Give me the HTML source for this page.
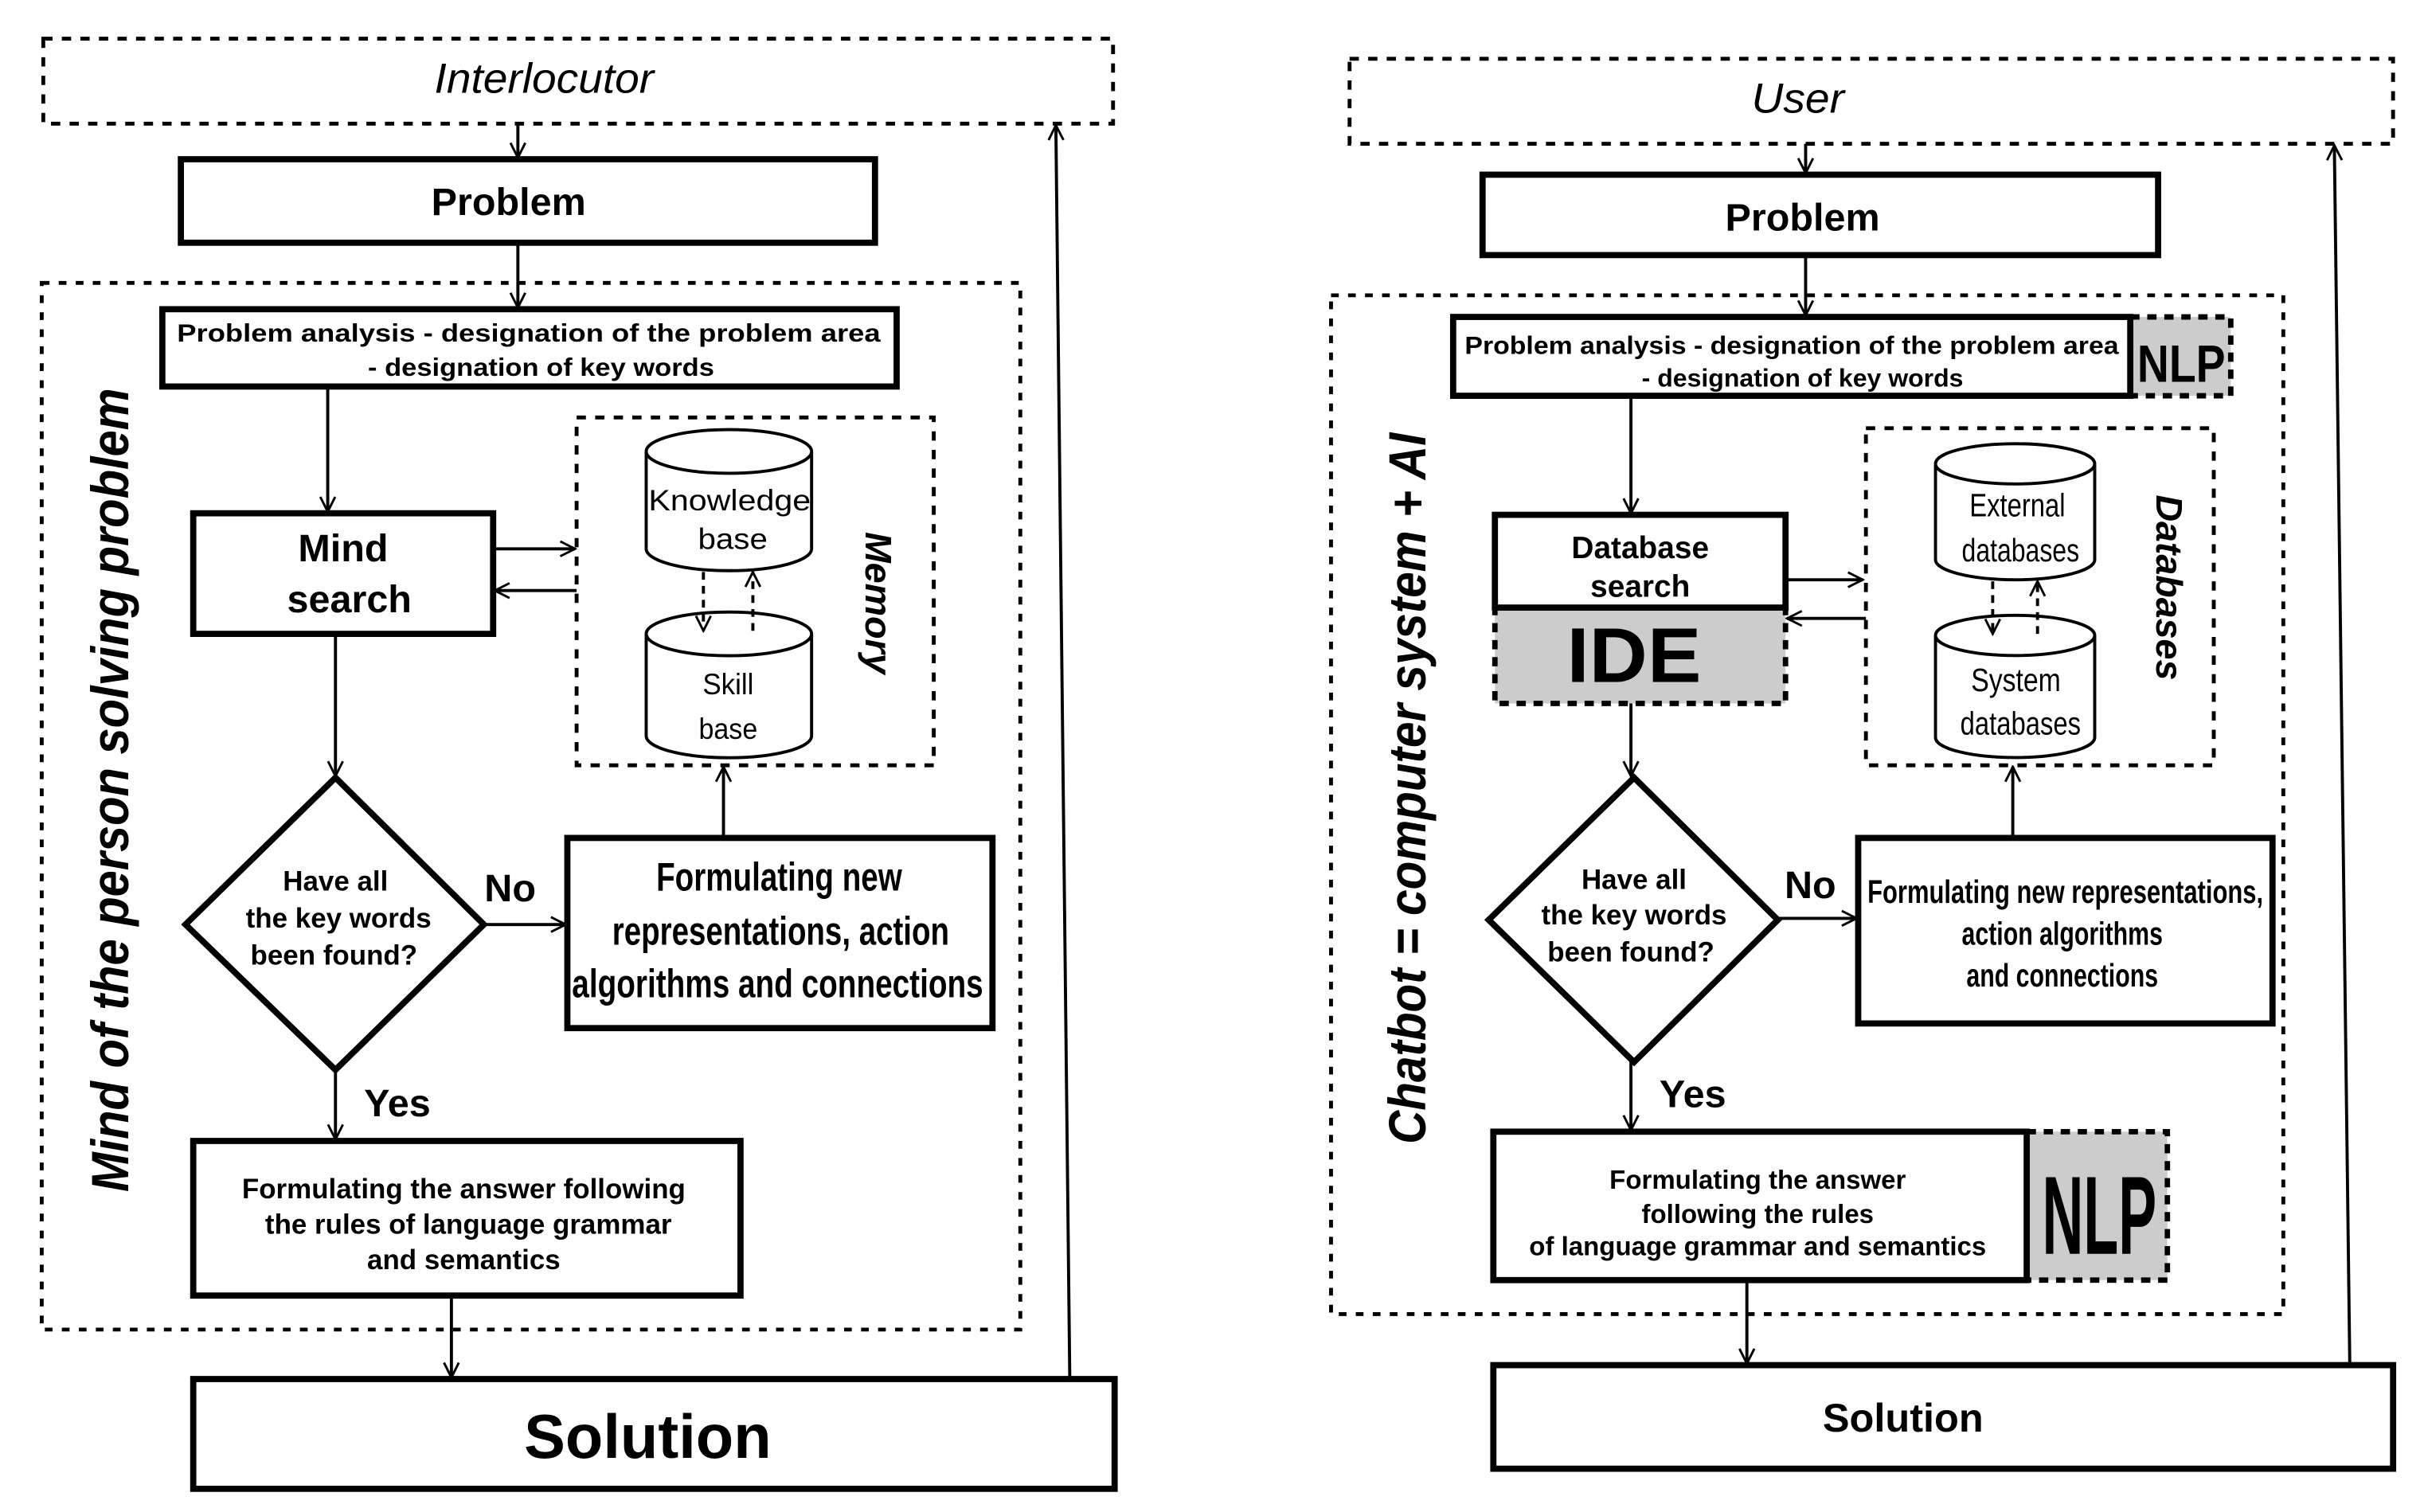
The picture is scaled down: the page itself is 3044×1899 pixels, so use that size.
<!DOCTYPE html>
<html><head><meta charset="utf-8"><style>
html,body{margin:0;padding:0;background:#fff;}
svg{display:block;}
text{font-family:"Liberation Sans",sans-serif;fill:#000;}
</style></head><body>
<svg width="3044" height="1899" viewBox="0 0 1568 978" preserveAspectRatio="none" xmlns="http://www.w3.org/2000/svg">
<defs>
<marker id="a" viewBox="0 0 20 20" refX="18" refY="10" markerWidth="12" markerHeight="12" markerUnits="userSpaceOnUse" orient="auto">
<path d="M2,2 L18,10 L2,18" fill="none" stroke="#000" stroke-width="2.5"/>
</marker>
</defs>
<g fill="none" stroke="#000">
<!-- LEFT -->
<rect x="28" y="25" width="692" height="55" stroke-width="2.5" stroke-dasharray="6,6"/>
<rect x="27" y="183" width="633" height="677" stroke-width="2.5" stroke-dasharray="5,6"/>
<rect x="373" y="270" width="231" height="225" stroke-width="2.5" stroke-dasharray="6,6"/>
<rect x="117" y="103" width="449" height="54" stroke-width="4"/>
<rect x="105" y="200" width="475" height="50" stroke-width="4"/>
<rect x="125" y="332" width="194" height="78" stroke-width="4"/>
<polygon points="217,503 313,598 217,692 120,598" stroke-width="4"/>
<rect x="367" y="542" width="275" height="123" stroke-width="4"/>
<rect x="125" y="738" width="354" height="100" stroke-width="4"/>
<rect x="125" y="892" width="596" height="71" stroke-width="4"/>
<path d="M418,292 A53,14 0 0 1 525,292 L525,355 A53,14 0 0 1 418,355 Z M418,292 A53,14 0 0 0 525,292" stroke-width="2"/>
<path d="M418,410 A53,14 0 0 1 525,410 L525,476 A53,14 0 0 1 418,476 Z M418,410 A53,14 0 0 0 525,410" stroke-width="2"/>
<g stroke-width="2" marker-end="url(#a)">
<line x1="335" y1="80" x2="335" y2="102"/>
<line x1="335" y1="157" x2="335" y2="199"/>
<line x1="212" y1="250" x2="212" y2="331"/>
<line x1="319" y1="355" x2="372" y2="355"/>
<line x1="373" y1="382" x2="320" y2="382"/>
<line x1="217" y1="410" x2="217" y2="502"/>
<line x1="313" y1="598" x2="366" y2="598"/>
<line x1="468" y1="542" x2="468" y2="496"/>
<line x1="217" y1="692" x2="217" y2="737"/>
<line x1="292" y1="838" x2="292" y2="891"/>
<line x1="692" y1="892" x2="683" y2="81"/>
<line x1="455" y1="370" x2="455" y2="408" stroke-dasharray="5,4"/>
<line x1="487" y1="408" x2="487" y2="370" stroke-dasharray="5,4"/>
</g>
<!-- RIGHT -->
<rect x="873" y="38" width="675" height="55" stroke-width="2.5" stroke-dasharray="6,6"/>
<rect x="861" y="191" width="616" height="659" stroke-width="2.5" stroke-dasharray="5,6"/>
<rect x="1207" y="277" width="225" height="218" stroke-width="2.5" stroke-dasharray="6,6"/>
<rect x="959" y="113" width="437" height="52" stroke-width="4"/>
<rect x="1378" y="205" width="65" height="51" fill="#ccc" stroke-width="3.5" stroke-dasharray="6,5"/>
<rect x="940" y="205" width="438" height="51" stroke-width="4"/>
<rect x="967" y="393" width="188" height="62" fill="#ccc" stroke-width="3.5" stroke-dasharray="6,5"/>
<rect x="967" y="333" width="188" height="60" stroke-width="4"/>
<polygon points="1057,503 1150,595 1057,687 963,595" stroke-width="4"/>
<rect x="1202" y="542" width="268" height="120" stroke-width="4"/>
<rect x="1311" y="732" width="91" height="96" fill="#ccc" stroke-width="3.5" stroke-dasharray="6,5"/>
<rect x="966" y="732" width="345" height="96" stroke-width="4"/>
<rect x="966" y="883" width="582" height="67" stroke-width="4"/>
<path d="M1252,300 A51.5,13 0 0 1 1355,300 L1355,362 A51.5,13 0 0 1 1252,362 Z M1252,300 A51.5,13 0 0 0 1355,300" stroke-width="2"/>
<path d="M1252,411 A51.5,13 0 0 1 1355,411 L1355,477 A51.5,13 0 0 1 1252,477 Z M1252,411 A51.5,13 0 0 0 1355,411" stroke-width="2"/>
<g stroke-width="2" marker-end="url(#a)">
<line x1="1168" y1="93" x2="1168" y2="112"/>
<line x1="1168" y1="165" x2="1168" y2="204"/>
<line x1="1055" y1="256" x2="1055" y2="332"/>
<line x1="1155" y1="375" x2="1205" y2="375"/>
<line x1="1207" y1="400" x2="1156" y2="400"/>
<line x1="1055" y1="455" x2="1055" y2="502"/>
<line x1="1150" y1="594" x2="1201" y2="594"/>
<line x1="1302" y1="542" x2="1302" y2="496"/>
<line x1="1055" y1="687" x2="1055" y2="731"/>
<line x1="1130" y1="828" x2="1130" y2="882"/>
<line x1="1520" y1="883" x2="1510" y2="94"/>
<line x1="1289" y1="376" x2="1289" y2="410" stroke-dasharray="5,4"/>
<line x1="1318" y1="410" x2="1318" y2="376" stroke-dasharray="5,4"/>
</g>
</g>
<!-- LEFT TEXT -->
<text x="352" y="60" font-size="27" font-style="italic" text-anchor="middle" textLength="142" lengthAdjust="spacingAndGlyphs">Interlocutor</text>
<text x="329" y="139" font-size="25" font-weight="bold" text-anchor="middle">Problem</text>
<text x="342" y="221" font-size="16" font-weight="bold" text-anchor="middle" textLength="455" lengthAdjust="spacingAndGlyphs">Problem analysis - designation of the problem area</text>
<text x="350" y="243" font-size="16" font-weight="bold" text-anchor="middle" textLength="224" lengthAdjust="spacingAndGlyphs">- designation of key words</text>
<text x="222" y="363" font-size="25" font-weight="bold" text-anchor="middle">Mind</text>
<text x="226" y="396" font-size="25" font-weight="bold" text-anchor="middle">search</text>
<text x="472" y="330" font-size="19" text-anchor="middle" textLength="105" lengthAdjust="spacingAndGlyphs">Knowledge</text>
<text x="474" y="355" font-size="19" text-anchor="middle" textLength="45" lengthAdjust="spacingAndGlyphs">base</text>
<text x="471" y="449" font-size="19" text-anchor="middle" textLength="33" lengthAdjust="spacingAndGlyphs">Skill</text>
<text x="471" y="478" font-size="19" text-anchor="middle" textLength="38" lengthAdjust="spacingAndGlyphs">base</text>
<text transform="translate(560,390) rotate(90)" font-size="24" font-weight="bold" font-style="italic" text-anchor="middle">Memory</text>
<text x="217" y="576" font-size="18" font-weight="bold" text-anchor="middle">Have all</text>
<text x="219" y="600" font-size="18" font-weight="bold" text-anchor="middle">the key words</text>
<text x="216" y="624" font-size="18" font-weight="bold" text-anchor="middle">been found?</text>
<text x="330" y="583" font-size="25" font-weight="bold" text-anchor="middle">No</text>
<text x="504" y="576" font-size="26" font-weight="bold" text-anchor="middle" textLength="159" lengthAdjust="spacingAndGlyphs">Formulating new</text>
<text x="505" y="611" font-size="26" font-weight="bold" text-anchor="middle" textLength="218" lengthAdjust="spacingAndGlyphs">representations, action</text>
<text x="503" y="645" font-size="26" font-weight="bold" text-anchor="middle" textLength="266" lengthAdjust="spacingAndGlyphs">algorithms and connections</text>
<text x="257" y="722" font-size="25" font-weight="bold" text-anchor="middle">Yes</text>
<text x="300" y="775" font-size="18" font-weight="bold" text-anchor="middle">Formulating the answer following</text>
<text x="303" y="798" font-size="18" font-weight="bold" text-anchor="middle">the rules of language grammar</text>
<text x="300" y="821" font-size="18" font-weight="bold" text-anchor="middle">and semantics</text>
<text x="419" y="943" font-size="40" font-weight="bold" text-anchor="middle">Solution</text>
<text transform="translate(83,511) rotate(-90)" font-size="34" font-weight="bold" font-style="italic" text-anchor="middle" textLength="520" lengthAdjust="spacingAndGlyphs">Mind of the person solving problem</text>
<!-- RIGHT TEXT -->
<text x="1163" y="73" font-size="27" font-style="italic" text-anchor="middle" textLength="60" lengthAdjust="spacingAndGlyphs">User</text>
<text x="1166" y="149" font-size="25" font-weight="bold" text-anchor="middle">Problem</text>
<text x="1159" y="229" font-size="16" font-weight="bold" text-anchor="middle" textLength="423" lengthAdjust="spacingAndGlyphs">Problem analysis - designation of the problem area</text>
<text x="1166" y="250" font-size="16" font-weight="bold" text-anchor="middle" textLength="208" lengthAdjust="spacingAndGlyphs">- designation of key words</text>
<text x="1411" y="247" font-size="34" font-weight="bold" text-anchor="middle" textLength="57" lengthAdjust="spacingAndGlyphs">NLP</text>
<text x="1061" y="361" font-size="20" font-weight="bold" text-anchor="middle">Database</text>
<text x="1061" y="386" font-size="20" font-weight="bold" text-anchor="middle">search</text>
<text x="1057" y="441" font-size="50" font-weight="bold" text-anchor="middle" textLength="87" lengthAdjust="spacingAndGlyphs">IDE</text>
<text x="1305" y="334" font-size="21" text-anchor="middle" textLength="62" lengthAdjust="spacingAndGlyphs">External</text>
<text x="1307" y="363" font-size="21" text-anchor="middle" textLength="76" lengthAdjust="spacingAndGlyphs">databases</text>
<text x="1304" y="447" font-size="21" text-anchor="middle" textLength="58" lengthAdjust="spacingAndGlyphs">System</text>
<text x="1307" y="475" font-size="21" text-anchor="middle" textLength="78" lengthAdjust="spacingAndGlyphs">databases</text>
<text transform="translate(1395,380) rotate(90)" font-size="24" font-weight="bold" font-style="italic" text-anchor="middle">Databases</text>
<text x="1057" y="575" font-size="18" font-weight="bold" text-anchor="middle">Have all</text>
<text x="1057" y="598" font-size="18" font-weight="bold" text-anchor="middle">the key words</text>
<text x="1055" y="622" font-size="18" font-weight="bold" text-anchor="middle">been found?</text>
<text x="1171" y="581" font-size="25" font-weight="bold" text-anchor="middle">No</text>
<text x="1336" y="584" font-size="21" font-weight="bold" text-anchor="middle" textLength="256" lengthAdjust="spacingAndGlyphs">Formulating new representations,</text>
<text x="1334" y="611" font-size="21" font-weight="bold" text-anchor="middle" textLength="130" lengthAdjust="spacingAndGlyphs">action algorithms</text>
<text x="1334" y="638" font-size="21" font-weight="bold" text-anchor="middle" textLength="124" lengthAdjust="spacingAndGlyphs">and connections</text>
<text x="1095" y="716" font-size="25" font-weight="bold" text-anchor="middle">Yes</text>
<text x="1137" y="769" font-size="17" font-weight="bold" text-anchor="middle">Formulating the answer</text>
<text x="1137" y="791" font-size="17" font-weight="bold" text-anchor="middle">following the rules</text>
<text x="1137" y="812" font-size="17" font-weight="bold" text-anchor="middle">of language grammar and semantics</text>
<text x="1358" y="811" font-size="72" font-weight="bold" text-anchor="middle" textLength="74" lengthAdjust="spacingAndGlyphs">NLP</text>
<text x="1231" y="926" font-size="26" font-weight="bold" text-anchor="middle">Solution</text>
<text transform="translate(922,510) rotate(-90)" font-size="34" font-weight="bold" font-style="italic" text-anchor="middle" textLength="460" lengthAdjust="spacingAndGlyphs">Chatbot = computer system + AI</text>
</svg>
</body></html>
